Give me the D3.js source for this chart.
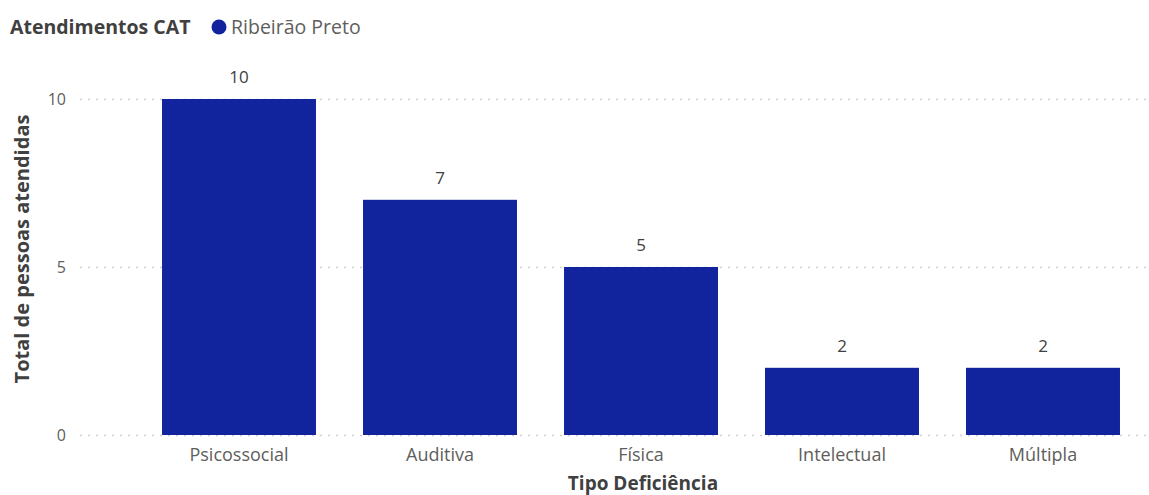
<!DOCTYPE html>
<html>
<head>
<meta charset="utf-8">
<script src="https://cdn.jsdelivr.net/npm/d3@7"></script>
<style>
  html, body { margin: 0; padding: 0; background: #fff; }
  svg { display: block; font-family: "Open Sans", "Noto Sans", sans-serif; }
</style>
</head>
<body>
<svg id="chart" width="1149" height="495"></svg>
<script>
const categories = ["Psicossocial", "Auditiva", "Física", "Intelectual", "Múltipla"];
const values = [10, 7, 5, 2, 2];
const yTicks = [0, 5, 10];
const seriesName = "Ribeirão Preto";
const chartTitle = "Atendimentos CAT";
const xTitle = "Tipo Deficiência";
const yTitle = "Total de pessoas atendidas";

const barColor = "#12239E";
const textGray = "#605E5C";
const titleGray = "#404040";

const svg = d3.select("#chart");

const x = d3.scaleBand()
  .domain(categories)
  .range([138.5, 1143.5])
  .paddingInner(0.234)
  .paddingOuter(0.117);

const y = d3.scaleLinear()
  .domain([0, 10])
  .range([435, 99]);

// dotted gridlines
svg.append("g")
  .selectAll("line")
  .data(yTicks)
  .join("line")
  .attr("x1", 80)
  .attr("x2", 1149)
  .attr("y1", d => y(d) + 0.5)
  .attr("y2", d => y(d) + 0.5)
  .attr("stroke", "#D0D0D0")
  .attr("stroke-width", 1.5)
  .attr("stroke-dasharray", "2,6");

// y axis tick labels
const yAxis = svg.append("g")
  .attr("transform", "translate(66,0)")
  .call(d3.axisLeft(y).tickValues(yTicks).tickSize(0).tickPadding(0).tickFormat(d3.format("d")));
yAxis.select(".domain").remove();
yAxis.selectAll("text")
  .attr("fill", textGray)
  .attr("font-size", 16)
  .attr("font-family", "Open Sans, sans-serif");

// bars
svg.append("g")
  .selectAll("rect")
  .data(values)
  .join("rect")
  .attr("x", (d, i) => x(categories[i]))
  .attr("width", x.bandwidth())
  .attr("y", d => y(d))
  .attr("height", d => y(0) - y(d))
  .attr("fill", barColor);

// data labels
svg.append("g")
  .selectAll("text")
  .data(values)
  .join("text")
  .attr("x", (d, i) => x(categories[i]) + x.bandwidth() / 2)
  .attr("y", d => y(d) - 16)
  .attr("text-anchor", "middle")
  .attr("fill", "#404040")
  .attr("font-size", 17)
  .text(d => d);

// x axis labels
const xAxis = svg.append("g")
  .attr("transform", "translate(0,448)")
  .call(d3.axisBottom(x).tickSize(0).tickPadding(0));
xAxis.select(".domain").remove();
xAxis.selectAll("text")
  .attr("fill", textGray)
  .attr("font-size", 18)
  .attr("font-family", "Open Sans, sans-serif");

// axis titles
svg.append("text")
  .attr("x", 643)
  .attr("y", 490)
  .attr("text-anchor", "middle")
  .attr("fill", titleGray)
  .attr("font-size", 19)
  .attr("font-weight", "bold")
  .text(xTitle);

svg.append("text")
  .attr("transform", "translate(29,249) rotate(-90)")
  .attr("text-anchor", "middle")
  .attr("fill", titleGray)
  .attr("font-size", 20)
  .attr("font-weight", "bold")
  .text(yTitle);

// title and legend
svg.append("text")
  .attr("x", 10)
  .attr("y", 34)
  .attr("fill", titleGray)
  .attr("font-size", 19.5)
  .attr("font-weight", "bold")
  .text(chartTitle);

svg.append("circle")
  .attr("cx", 219)
  .attr("cy", 27)
  .attr("r", 7.5)
  .attr("fill", barColor);

svg.append("text")
  .attr("x", 231)
  .attr("y", 34)
  .attr("fill", textGray)
  .attr("font-size", 19.5)
  .text(seriesName);
</script>
</body>
</html>
